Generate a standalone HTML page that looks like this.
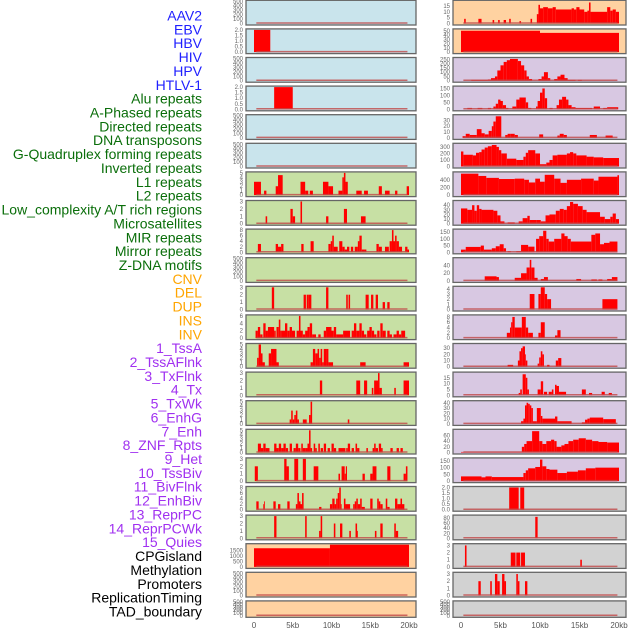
<!DOCTYPE html>
<html><head><meta charset="utf-8">
<style>
html,body{margin:0;padding:0;background:#fff;}
svg{display:block;font-family:"Liberation Sans",sans-serif;}
</style></head>
<body>
<svg id="chart" width="630" height="630" viewBox="0 0 630 630" xmlns="http://www.w3.org/2000/svg"></svg>
<script>
// ---- data ----
const trackLabels = ["AAV2","EBV","HBV","HIV","HPV","HTLV-1","Alu repeats","A-Phased repeats","Directed repeats","DNA transposons","G-Quadruplex forming repeats","Inverted repeats","L1 repeats","L2 repeats","Low_complexity A/T rich regions","Microsatellites","MIR repeats","Mirror repeats","Z-DNA motifs","CNV","DEL","DUP","INS","INV","1_TssA","2_TssAFlnk","3_TxFlnk","4_Tx","5_TxWk","6_EnhG","7_Enh","8_ZNF_Rpts","9_Het","10_TssBiv","11_BivFlnk","12_EnhBiv","13_ReprPC","14_ReprPCWk","15_Quies","CPGisland","Methylation","Promoters","ReplicationTiming","TAD_boundary"];
const labelGroups = ["v","v","v","v","v","v","r","r","r","r","r","r","r","r","r","r","r","r","r","c","c","c","c","c","s","s","s","s","s","s","s","s","s","s","s","s","s","s","s","o","o","o","o","o"];
const xTickLabels = ["0","5kb","10kb","15kb","20kb"];
const xTickValues = [0,5,10,15,20];
const E500 = [0,100,200,300,400,500];
// left column: [bg, ymax, ticks, segments [startKb,endKb,value]]
const leftBg = ["b","b","b","b","b","b","g","g","g","g","g","g","g","g","g","g","g","g","g","o","o","o"];
const leftMax = [500,2,500,2,500,500,5,3,8,500,3,6,5,3,5,5,3,8,3,2000,500,500];
const leftTicks = [E500,[0,0.5,1,1.5,2],E500,[0,0.5,1,1.5,2],E500,E500,[0,1,2,3,4,5],[0,1,2,3],[0,2,4,6,8],E500,[0,1,2,3],[0,2,4,6],[0,1,2,3,4,5],[0,1,2,3],[0,1,2,3,4,5],[0,1,2,3,4,5],[0,1,2,3],[0,2,4,6,8],[0,1,2,3],[0,500,1000,1500],E500,E500];
const leftSegs = [
 [],
 [[0,2.1,2]],
 [],
 [[2.6,5.0,2]],
 [],[],
 [[0,0.9,3],[1.3,1.6,1],[2.8,3.1,2],[3.1,3.7,4.5],[6,6.6,3],[6.6,7.0,1],[7.2,7.6,1],[8.9,9.6,3],[9.6,10.2,2],[10.9,11.4,1],[11.4,11.6,4],[11.6,11.8,5],[11.8,12.1,3],[13.2,13.9,1],[14.2,14.7,1],[16.1,16.5,2],[16.9,17.5,1],[18.2,18.5,1],[19.7,20,2]],
 [[1.5,1.7,1],[4.7,5.0,2],[5.0,5.3,1],[6.0,6.2,3],[9.3,9.6,1],[11.6,12.0,2],[13.8,14.4,1]],
 [[0.5,0.9,3],[2.8,3.1,3],[3.1,3.5,2],[3.5,3.8,3],[6.1,6.4,3],[7.3,7.7,4],[9.6,9.9,3],[9.9,10.1,4],[10.1,10.3,6],[10.3,10.8,2],[11.0,11.4,4],[11.4,11.7,2],[11.7,12.0,1],[12.0,12.3,2],[12.5,12.8,2],[13.0,13.4,2],[13.4,13.6,4],[13.6,13.9,6],[13.9,14.2,1],[14.2,14.5,1],[15.8,16.1,3],[16.1,16.5,2],[16.9,17.4,2],[17.5,17.8,4],[17.8,18.0,8],[18.0,18.2,4],[18.2,18.4,6],[18.4,18.7,4],[18.7,19.1,2],[19.5,19.8,2],[19.8,20,1]],
 [],
 [[2.3,2.6,3],[6.4,6.7,2],[6.8,7.0,2],[7.0,7.4,2],[9.3,9.6,3],[11.9,12.1,2],[12.2,12.4,2],[14.4,14.8,2],[15.1,15.4,2],[15.7,16.0,2],[16.6,16.9,1],[17.2,17.5,1]],
 [[0.2,0.5,2],[0.5,0.8,3],[0.8,1.1,1],[1.2,1.5,4],[1.5,1.8,2],[1.8,2.6,3],[2.6,2.8,2],[2.9,3.2,3],[3.2,3.4,5],[3.4,3.6,2],[3.6,4.0,2],[4.0,4.3,4],[4.3,4.6,2],[4.6,4.9,3],[4.9,5.3,2],[5.5,5.8,2],[5.8,6.0,6],[6.0,6.3,2],[6.3,6.6,1],[6.6,6.9,2],[6.9,7.2,3],[7.2,7.5,4],[7.5,8.0,1],[8.3,8.6,1],[9.0,9.3,2],[9.3,10.0,3],[10.0,10.3,2],[10.3,10.6,3],[10.6,11.5,1],[11.5,12.4,2],[12.6,12.9,2],[12.9,13.2,4],[13.2,13.6,2],[13.6,13.9,4],[13.9,14.2,2],[14.2,14.5,1],[14.6,14.9,2],[14.9,15.2,3],[15.2,15.5,2],[15.5,15.8,1],[15.9,16.2,2],[16.3,16.6,4],[16.6,17.0,2],[17.2,17.5,2],[17.5,17.8,1],[18.0,18.4,1],[18.4,18.7,2],[18.7,19.0,1],[19.0,19.5,2]],
 [[0.4,0.6,2],[0.6,0.9,5],[0.9,1.1,3],[1.1,1.4,1],[1.9,2.2,3],[2.2,2.9,4],[2.9,3.2,1],[7.3,7.6,1],[7.6,7.9,4],[7.9,8.2,3],[8.2,8.4,4],[8.4,8.6,2],[8.6,8.8,4],[8.8,9.0,1],[9.0,9.3,4],[9.3,9.6,4],[9.6,10.2,1],[13.7,14.4,1],[19.3,20,1]],
 [[8.5,8.8,2],[13.2,13.7,2],[14.2,14.6,2],[15.2,15.4,1],[15.5,16.0,2],[16.0,16.2,3],[16.2,16.5,1],[18.1,18.3,1],[19.3,20,2]],
 [[4.6,4.8,1],[4.8,5.0,3],[5.0,5.2,1],[5.2,5.4,2],[5.4,5.6,3],[5.6,5.8,1],[6.3,6.8,1],[7.1,7.3,2],[7.3,7.5,5],[12.1,12.3,1]],
 [[0.5,0.9,2],[0.9,1.2,1],[1.2,1.5,2],[1.5,2.0,1],[2.6,2.9,2],[2.9,3.2,1],[3.2,3.5,2],[3.5,3.8,1],[3.8,4.1,2],[4.1,4.4,1],[4.6,4.9,2],[5.1,5.4,1],[5.4,5.7,2],[5.7,6.0,1],[6.1,6.3,2],[6.3,6.6,1],[6.6,6.9,1],[6.9,7.1,2],[7.1,7.3,5],[7.3,7.5,1],[7.7,7.9,2],[7.9,8.1,1],[8.3,8.5,2],[8.6,8.9,1],[9.0,9.3,2],[9.5,9.8,1],[10.0,10.3,2],[10.3,10.6,1],[10.9,11.8,1],[11.9,12.1,1],[12.1,12.4,2],[12.6,12.9,1],[13.1,13.3,2],[13.3,13.6,1],[14.5,14.7,1],[15.3,15.5,1],[15.5,15.7,2],[15.7,16.0,1],[16.1,16.4,2],[16.4,16.6,1],[17.6,17.9,1],[18.4,18.7,1],[18.9,19.2,1]],
 [[0.1,0.5,2],[3.9,4.2,3],[4.2,4.5,2],[5.2,5.7,3],[6.3,6.7,3],[7.7,8.3,2],[10.9,11.1,1],[11.3,11.7,2],[11.7,11.85,1],[11.85,12.0,2],[14.0,14.3,1],[15.0,15.3,1],[15.3,15.8,2],[17.2,17.6,2],[19.3,19.6,1],[19.6,19.8,2]],
 [[0.3,0.6,3],[1.2,1.3,2],[1.3,1.4,3],[2.5,2.8,3],[3.1,3.4,2],[4.3,4.6,3],[5.4,5.6,2],[5.6,5.8,6],[5.8,6.0,3],[6.0,6.2,2],[6.2,6.4,6],[8.4,8.7,1],[9.8,10.1,2],[10.1,10.4,4],[10.4,10.6,2],[10.6,10.8,4],[10.8,11.0,6],[11.0,11.2,8],[11.2,11.3,2],[11.6,11.8,4],[11.8,12.4,2],[12.8,13.0,2],[13.0,13.2,3],[13.2,13.4,4],[13.4,13.7,2],[13.7,13.9,4],[13.9,14.3,1],[15.0,15.3,4],[15.9,16.1,4],[16.1,16.3,3],[16.3,16.6,2],[17.0,17.2,4],[17.2,17.5,1],[18.2,18.5,4],[18.5,18.9,2],[18.9,19.1,4],[19.1,19.4,2]],
 [[2.6,2.9,3],[6.6,6.8,3],[8.4,8.6,1],[8.6,8.8,3],[10.3,10.5,2],[11.1,11.4,2],[12.3,12.5,1],[13.1,13.3,2],[13.3,13.4,1],[15.6,15.8,1],[16.3,16.6,2],[18.1,18.3,2],[18.3,18.6,1]],
 [[0,9.8,1680],[9.8,20,2000]],
 [],[]
];
// right column
const rightBg = ["o","o","p","p","p","p","p","p","p","p","p","p","p","p","p","p","p","y","y","y","y","y"];
const rightMax = [19,52,260,160,38,340,580,48,165,58,4.3,8.4,36,19,42,78,165,2,88,3.1,3.1,500];
const rightTicks = [[0,5,10,15],[0,10,20,30,40,50],[0,50,100,150,200,250],[0,50,100,150],[0,10,20,30],[0,100,200,300],[0,200,400],[0,10,20,30,40],[0,50,100,150],[0,20,40],[0,1,2,3,4],[0,2,4,6,8],[0,10,20,30],[0,5,10,15],[0,10,20,30,40],[0,20,40,60],[0,50,100,150],[0,0.5,1,1.5,2],[0,20,40,60,80],[0,1,2,3],[0,1,2,3],E500];
const rightSegs = [
 [[0.4,0.6,4],[2.2,2.6,4],[4.0,4.2,3],[4.7,4.9,3],[5.4,5.7,3],[6.1,6.3,4],[7.4,7.6,2],[8.8,9.0,4],[9.6,9.8,8],[9.8,10.0,16],[10.0,10.4,13],[10.4,11.0,14],[11.0,11.6,13],[11.6,12.0,14],[12.0,14.0,12],[14.0,14.3,13],[14.3,14.6,12],[14.6,15.0,14],[15.0,15.6,12],[15.6,16.0,10],[16.0,16.2,11],[16.2,16.4,18],[16.4,18.5,10],[18.5,18.9,14],[18.9,19.2,11],[19.2,19.6,12],[19.6,20,10]],
 [[0,10,50],[10,20,45]],
 [[1.3,3.4,10],[3.4,3.8,15],[3.8,4.3,30],[4.3,4.6,50],[4.6,5.0,120],[5.0,5.4,180],[5.4,5.8,220],[5.8,6.2,240],[6.2,7.2,255],[7.2,7.6,230],[7.6,8.0,180],[8.0,8.3,120],[8.3,8.6,50],[8.6,9.0,20],[9.8,10.2,20],[10.2,10.5,50],[10.5,11.0,100],[11.0,11.3,30],[11.8,12.2,20],[12.2,12.6,50],[12.6,13.1,70],[13.1,13.5,30],[13.5,14.5,10],[14.8,15.3,10]],
 [[0.8,1.4,10],[2.1,2.7,10],[3.4,3.8,10],[4.1,4.4,20],[4.4,4.7,40],[4.7,5.0,70],[5.0,5.3,60],[5.3,5.7,30],[5.7,6.0,10],[6.5,7.0,20],[7.0,7.4,70],[7.4,8.2,85],[8.2,8.5,50],[8.5,8.9,10],[9.5,9.7,20],[9.7,10.0,60],[10.0,10.3,120],[10.3,10.6,150],[10.6,10.9,80],[11.2,11.6,10],[12.1,12.4,30],[12.4,12.8,70],[12.8,13.3,90],[13.3,13.6,70],[13.6,14.0,30],[14.0,14.5,15],[14.5,16.6,10],[16.8,17.6,20],[18.0,18.5,10],[18.5,19.9,15]],
 [[0.2,0.6,3],[0.6,1.1,7],[1.1,2.0,5],[2.0,2.6,15],[2.6,3.0,8],[3.0,3.5,6],[3.5,3.9,12],[3.9,4.1,20],[4.1,4.4,28],[4.4,5.1,37],[5.6,5.9,5],[5.9,6.3,7],[6.3,6.8,7],[6.8,7.2,5],[9.9,10.4,6],[12.2,12.5,4],[12.5,13.0,7],[13.0,13.4,5],[16.3,17.2,5],[18.3,19.2,4]],
 [[0,0.3,230],[0.3,1.5,180],[1.5,1.9,170],[1.9,2.3,210],[2.3,2.6,220],[2.6,3.0,260],[3.0,3.4,290],[3.4,3.9,310],[3.9,4.5,330],[4.5,4.8,300],[4.8,5.1,250],[5.1,5.8,200],[5.8,7.0,120],[7.0,7.9,100],[7.9,8.2,150],[8.2,8.5,210],[8.5,9.4,250],[9.4,10.0,200],[10.0,10.8,35],[10.8,11.2,60],[11.2,11.6,100],[11.6,12.2,170],[12.2,13.4,180],[13.4,13.8,200],[13.8,14.2,220],[14.2,14.6,200],[14.6,15.9,170],[15.9,16.8,150],[16.8,18.0,140],[18.0,20,130]],
 [[0,2.2,560],[2.2,3.2,500],[3.2,4.8,450],[4.8,6.8,420],[6.8,8.0,430],[8.0,8.6,400],[8.6,9.4,330],[9.4,10.0,430],[10.0,10.6,350],[10.6,11.8,530],[11.8,12.6,430],[12.6,13.4,320],[13.4,15.2,400],[15.2,16.8,430],[16.8,17.4,380],[17.4,19.8,480],[19.8,20,520]],
 [[0,0.8,33],[0.8,1.4,30],[1.4,1.7,40],[1.7,2.0,28],[2.0,2.3,40],[2.3,2.6,32],[2.6,4.1,30],[4.1,4.6,28],[4.6,5.0,18],[5.0,5.5,5],[5.9,6.8,3],[7.3,7.8,5],[7.8,8.4,12],[8.4,8.7,17],[8.7,9.6,8],[9.6,10.1,8],[10.1,10.7,5],[10.7,11.2,18],[11.2,12.0,20],[12.0,12.5,28],[12.5,13.0,32],[13.0,13.4,30],[13.4,13.8,38],[13.8,14.2,47],[14.2,14.8,43],[14.8,15.4,38],[15.4,15.9,30],[15.9,17.6,25],[17.6,18.2,15],[18.2,18.9,10],[18.9,19.2,15],[19.2,19.6,22],[19.6,20,10]],
 [[0,0.6,20],[0.6,2.5,40],[2.5,2.9,50],[2.9,3.9,20],[3.9,4.4,30],[4.4,4.9,45],[4.9,5.4,60],[5.4,5.7,30],[5.9,6.3,8],[7.0,7.6,8],[7.6,8.5,55],[8.5,9.3,42],[9.5,9.9,100],[9.9,10.4,120],[10.4,10.8,160],[10.8,11.1,100],[11.1,11.8,80],[11.8,12.7,100],[12.7,13.1,140],[13.1,13.5,120],[13.5,13.9,100],[13.9,16.5,80],[16.5,17.0,130],[17.0,17.6,140],[17.6,18.1,60],[18.1,18.8,70],[18.8,19.8,80]],
 [[3.0,4.5,12],[4.5,4.8,10],[6.8,7.6,8],[7.6,8.3,20],[8.3,8.7,35],[8.7,8.9,55],[8.9,9.3,35],[9.3,9.7,8],[10.1,10.5,5],[10.5,11.0,10],[14.6,15.2,5],[16.5,17.2,4],[17.4,17.9,4],[18.5,19.1,5],[19.1,19.8,10]],
 [[8.7,9.3,3],[9.8,10.1,3],[10.1,10.6,4.3],[10.6,10.9,3],[10.9,11.4,2],[17.9,19.8,2]],
 [[5.8,6.2,2],[6.2,6.35,4],[6.35,6.5,6],[6.5,6.8,8],[6.8,7.7,4],[7.7,8.2,8],[8.2,8.5,4],[8.5,9.1,2],[9.8,10.1,2],[10.1,10.6,6],[11.9,12.2,1],[12.2,12.6,3]],
 [[5.9,6.6,3],[7.2,7.4,10],[7.4,7.6,25],[7.6,7.8,30],[7.8,8.1,33],[8.1,8.2,20],[8.2,8.4,10],[9.7,9.9,5],[9.9,10.1,15],[10.1,10.3,25],[10.3,10.5,20],[10.9,11.2,3],[12.0,12.3,10],[12.3,12.7,14]],
 [[7.3,7.5,2],[7.5,7.7,5],[7.8,8.2,18],[8.2,8.4,15],[8.4,8.6,5],[9.7,10.1,5],[10.1,10.4,12],[10.5,10.9,3],[11.1,11.5,3],[11.5,11.7,5],[11.9,12.1,9],[12.1,12.4,8],[12.4,13.3,3],[15.3,15.8,5],[16.2,16.6,2],[17.8,18.2,3],[18.7,19.1,2]],
 [[7.6,7.9,5],[7.9,8.1,10],[8.1,8.3,35],[8.3,8.5,40],[8.5,8.7,38],[8.7,8.9,35],[8.9,9.1,30],[9.1,9.6,5],[9.6,10.1,30],[10.1,10.3,15],[10.3,11.9,10],[11.9,12.2,14],[12.2,14.0,5],[15.3,15.7,3],[15.7,16.0,8],[16.0,16.3,10],[16.3,18.0,12],[18.0,19.6,9]],
 [[0,7.7,2],[7.7,8.0,20],[8.0,8.3,30],[8.3,9.0,40],[9.0,9.9,75],[9.9,10.3,40],[10.3,10.8,30],[10.8,11.4,40],[11.4,11.8,45],[11.8,12.1,40],[12.1,12.7,20],[12.7,13.1,25],[13.1,13.6,30],[13.6,14.2,40],[14.2,14.9,45],[14.9,15.8,50],[15.8,16.6,45],[16.6,17.4,40],[17.4,18.5,37],[18.5,20,35]],
 [[0,2.6,35],[2.6,3.1,28],[3.1,3.9,35],[3.9,7.9,30],[7.9,8.2,60],[8.2,8.5,80],[8.5,9.4,95],[9.4,10.0,105],[10.0,10.3,160],[10.3,10.8,110],[10.8,11.2,90],[11.2,12.2,85],[12.2,13.4,60],[13.4,14.8,70],[14.8,15.8,80],[15.8,17.0,95],[17.0,20,100]],
 [[6.1,7.3,2],[7.5,8.0,2]],
 [[9.4,9.7,85]],
 [[0.5,0.7,3],[6.3,6.9,2],[7.0,7.5,2],[7.6,8.1,2],[15.1,15.3,1]],
 [[2.2,2.5,2],[3.7,3.9,2],[4.3,4.6,3],[4.6,4.9,2],[5.2,5.5,3],[5.5,5.7,2],[7.0,7.2,3],[7.2,7.4,2],[8.1,8.4,2]],
 []
];
// ---- drawing ----
const NS = "http://www.w3.org/2000/svg";
const svg = document.getElementById("chart");
const bgColors = {b:"#c9e4ec",g:"#c7e0a4",o:"#ffd2a1",p:"#d8c8e2",y:"#d2d2d2"};
const labelColors = {v:"#2020ff",r:"#0a6e0a",c:"#ffa500",s:"#a030f0",o:"#000000"};
function mk(tag, attrs){const e=document.createElementNS(NS,tag);for(const k in attrs)e.setAttribute(k,attrs[k]);return e;}
function panelTop(i){return 0.3 + i*28.6;}
function panelH(i){return Math.min(24.7, 617.3 - panelTop(i));}

// labels
trackLabels.forEach((t,i)=>{
  const el = mk("text",{x:202,y:20.5+i*13.86,"text-anchor":"end","font-size":"14",fill:labelColors[labelGroups[i]]});
  el.textContent = t;
  
  
  svg.appendChild(el);
});

function drawColumn(colName, fx0, fx1, x0, x20, bgs, maxes, ticks, segs){
  const xs = kb => x0 + (x20-x0)*kb/20;
  const g = mk("g",{});
  
  
  svg.appendChild(g);
  for(let i=0;i<bgs.length;i++){
    const top = panelTop(i), h = panelH(i);
    const bottom = top + h - 1.5, ytop = top + 1;
    const ys = v => bottom - (bottom-ytop)*v/maxes[i];
    const pg = mk("g",{});
    
    
    g.appendChild(pg);
    const bg = mk("rect",{x:fx0,y:top,width:fx1-fx0,height:h,fill:bgColors[bgs[i]]});
    
    
    pg.appendChild(bg);
    segs[i].forEach(s=>{
      const r = mk("rect",{x:xs(s[0]),y:ys(s[2]),width:Math.max(0.8,xs(s[1])-xs(s[0])),height:bottom-ys(s[2]),fill:"#ff0000"});
      
      
      pg.appendChild(r);
    });
    const bl = mk("line",{x1:xs(0.3),x2:xs(19.8),y1:bottom-0.5,y2:bottom-0.5,stroke:"#c04848","stroke-width":1.5,"stroke-opacity":0.8});
    
    
    pg.appendChild(bl);
    const fr = mk("rect",{x:fx0,y:top,width:fx1-fx0,height:h,fill:"none",stroke:"#666","stroke-width":1.3});
    
    
    pg.appendChild(fr);
    ticks[i].forEach(t=>{
      const tl = mk("text",{x:fx0-3,y:ys(t)+2,"text-anchor":"end","font-size":"6",fill:"#666"});
      tl.textContent = String(t).replace(/^(\d)$/,"$1").replace(/^(\d)\.(\d)$/,"$1.$2");
      if(ticks[i][ticks[i].length-1]===2 && String(t).indexOf(".")<0) tl.textContent = t.toFixed(1);
      
      
      pg.appendChild(tl);
    });
  }
  xTickValues.forEach((v,k)=>{
    const t = mk("text",{x:xs(v),y:628,"text-anchor":"middle","font-size":"8",fill:"#555"});
    t.textContent = xTickLabels[k];
    
    
    g.appendChild(t);
  });
}
drawColumn("left-track-column",246,416,254,409,leftBg,leftMax,leftTicks,leftSegs);
drawColumn("right-track-column",453,626,461,619,rightBg,rightMax,rightTicks,rightSegs);
</script>
</body></html>
